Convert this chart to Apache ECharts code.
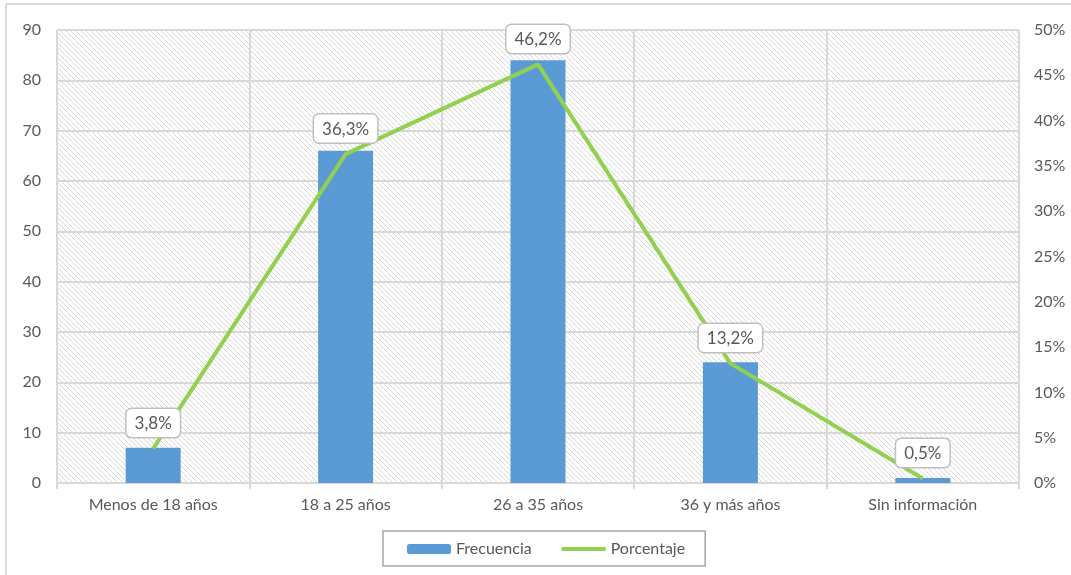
<!DOCTYPE html>
<html>
<head>
<meta charset="utf-8">
<script src="https://cdn.jsdelivr.net/npm/echarts@6/dist/echarts.min.js"></script>
<style>
  html, body { margin: 0; padding: 0; background: #fff; }
  #chart { width: 1071px; height: 575px; }
</style>
</head>
<body>
<div id="chart"></div>
<script>
var categories = ['Menos de 18 años', '18 a 25 años', '26 a 35 años', '36 y más años', 'Sin información'];
var frecuencia = [7, 66, 84, 24, 1];
var porcentaje = [3.8, 36.3, 46.2, 13.2, 0.5];
var leftTicks = { min: 0, max: 90, interval: 10 };
var rightTicks = { min: 0, max: 50, interval: 5 };

// rayado diagonal del fondo
function hatch() {
  var s = 5;
  var c = document.createElement('canvas');
  c.width = s; c.height = s;
  var ctx = c.getContext('2d');
  ctx.strokeStyle = '#d9d9d9';
  ctx.lineWidth = 1;
  ctx.beginPath();
  ctx.moveTo(-1, -1); ctx.lineTo(s + 1, s + 1);
  ctx.moveTo(-1, s - 1); ctx.lineTo(1, s + 1);
  ctx.moveTo(s - 1, -1); ctx.lineTo(s + 1, 1);
  ctx.stroke();
  return c;
}

var font = 'Lato, "Open Sans", sans-serif';
var chart = echarts.init(document.getElementById('chart'));
var option = {
  textStyle: { fontFamily: font },
  animation: false,
  grid: {
    show: true,
    left: 57, right: 52, top: 30, bottom: 92,
    backgroundColor: { image: hatch(), repeat: 'repeat' },
    borderWidth: 0
  },
  graphic: [
    { type: 'line', shape: { x1: 6, y1: 4, x2: 1071, y2: 4 }, style: { stroke: '#d9d9d9', lineWidth: 2 } },
    { type: 'line', shape: { x1: 6, y1: 4, x2: 6, y2: 575 }, style: { stroke: '#d9d9d9', lineWidth: 2 } }
  ],
  legend: {
    bottom: 9,
    left: 383,
    padding: [10, 20, 9, 24],
    borderColor: '#a6a6a6',
    borderWidth: 1.5,
    itemWidth: 44,
    itemHeight: 10,
    itemGap: 28,
    textStyle: { color: '#595959', fontSize: 16, fontFamily: font },
    data: [
      { name: 'Frecuencia' },
      { name: 'Porcentaje', itemStyle: { opacity: 0 }, lineStyle: { width: 4 } }
    ]
  },
  xAxis: {
    type: 'category',
    data: categories,
    axisLine: { show: true, lineStyle: { color: '#d9d9d9', width: 2 } },
    axisTick: { show: true, length: 6, lineStyle: { color: '#d9d9d9', width: 2 } },
    axisLabel: { color: '#595959', fontSize: 16, margin: 14 },
    splitLine: { show: true, lineStyle: { color: '#d9d9d9', width: 2 } }
  },
  yAxis: [
    {
      type: 'value',
      min: leftTicks.min, max: leftTicks.max, interval: leftTicks.interval,
      axisLine: { show: false },
      axisTick: { show: false },
      axisLabel: { color: '#595959', fontSize: 16, margin: 16 },
      splitLine: { lineStyle: { color: '#d9d9d9', width: 2 } }
    },
    {
      type: 'value',
      min: rightTicks.min, max: rightTicks.max, interval: rightTicks.interval,
      axisLine: { show: false },
      axisTick: { show: false },
      axisLabel: { color: '#595959', fontSize: 16, margin: 15, formatter: '{value}%' },
      splitLine: { show: false }
    }
  ],
  series: [
    {
      name: 'Frecuencia',
      type: 'bar',
      data: frecuencia,
      barWidth: 55,
      itemStyle: { color: '#5b9bd5' }
    },
    {
      name: 'Porcentaje',
      type: 'line',
      yAxisIndex: 1,
      data: porcentaje,
      symbol: 'circle',
      symbolSize: 1,
      itemStyle: { color: '#92d050' },
      lineStyle: { color: '#92d050', width: 4 },
      label: {
        show: true,
        position: 'top',
        distance: 11,
        color: '#595959',
        fontSize: 17,
        backgroundColor: '#fff',
        borderColor: '#bfbfbf',
        borderWidth: 1.5,
        borderRadius: 5,
        padding: [6, 8, 5, 8],
        formatter: function (p) {
          return String(p.value.toFixed(1)).replace('.', ',') + '%';
        }
      },
      z: 3
    }
  ]
};
chart.setOption(option);
window.addEventListener('resize', function () { chart.resize(); });
</script>
</body>
</html>
